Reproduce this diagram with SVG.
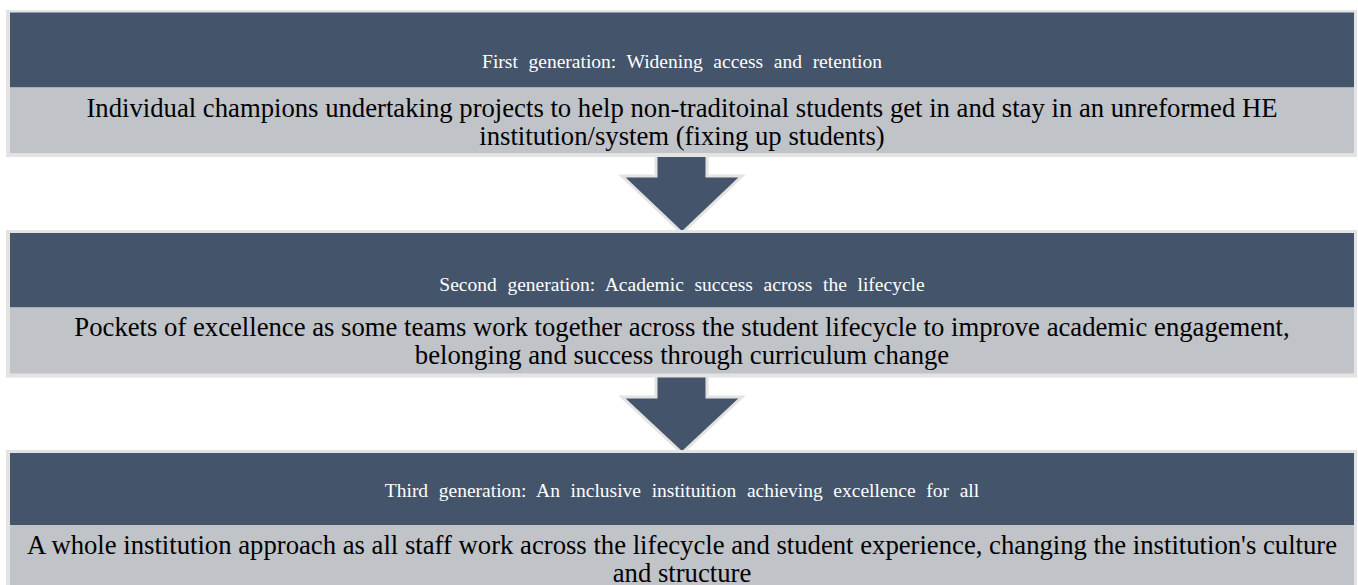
<svg xmlns="http://www.w3.org/2000/svg" width="1358" height="585" viewBox="0 0 1358 585">
  <defs>
    <style>
      .frame { fill: #e3e3e3; }
      .head { fill: #44546a; }
      .band { fill: #c0c3c8; }
      .htxt { font-family: "Liberation Serif", "Times New Roman", serif; font-size: 19.5px; fill: #ffffff; text-anchor: middle; word-spacing: 5.8px; }
      .btxt { font-family: "Liberation Serif", "Times New Roman", serif; font-size: 26.7px; fill: #000000; text-anchor: middle; }
      .arrow { fill: #44546a; stroke: #e3e3e3; stroke-width: 3; stroke-linejoin: miter; }
    </style>
  </defs>
  <rect width="1358" height="585" fill="#ffffff"/>

  <!-- connectors: block arrows between stages -->
  <g id="connectors">
    <path class="arrow" d="M656,155 L707,155 L707,176 L742,176 L682,233 L622,176 L656,176 Z"/>
    <path class="arrow" d="M656,375 L707,375 L707,397 L742,397 L682,453 L622,397 L656,397 Z"/>
  </g>

  <g id="stage1">
    <rect class="frame" x="6" y="10" width="1351" height="147"/>
    <rect class="head" x="10" y="12.5" width="1344" height="75"/>
    <rect class="band" x="10" y="87.5" width="1344" height="65.5"/>
    <text class="htxt" x="682" y="68">First generation: Widening access and retention</text>
    <text class="btxt" x="682" y="117">Individual champions undertaking projects to help non-traditoinal students get in and stay in an unreformed HE</text>
    <text class="btxt" x="682" y="145">institution/system (fixing up students)</text>
  </g>

  <g id="stage2">
    <rect class="frame" x="6" y="230" width="1351" height="147.5"/>
    <rect class="head" x="10" y="233" width="1344" height="74.5"/>
    <rect class="band" x="10" y="307.5" width="1344" height="66"/>
    <text class="htxt" x="682" y="291">Second generation: Academic success across the lifecycle</text>
    <text class="btxt" x="682" y="336">Pockets of excellence as some teams work together across the student lifecycle to improve academic engagement,</text>
    <text class="btxt" x="682" y="364">belonging and success through curriculum change</text>
  </g>

  <g id="stage3">
    <rect class="frame" x="6" y="450" width="1351" height="150"/>
    <rect class="head" x="10" y="453" width="1344" height="72"/>
    <rect class="band" x="10" y="525" width="1344" height="75"/>
    <text class="htxt" x="682" y="497">Third generation: An inclusive instituition achieving excellence for all</text>
    <text class="btxt" x="682" y="554">A whole institution approach as all staff work across the lifecycle and student experience, changing the institution's culture</text>
    <text class="btxt" x="682" y="582">and structure</text>
  </g>
</svg>
